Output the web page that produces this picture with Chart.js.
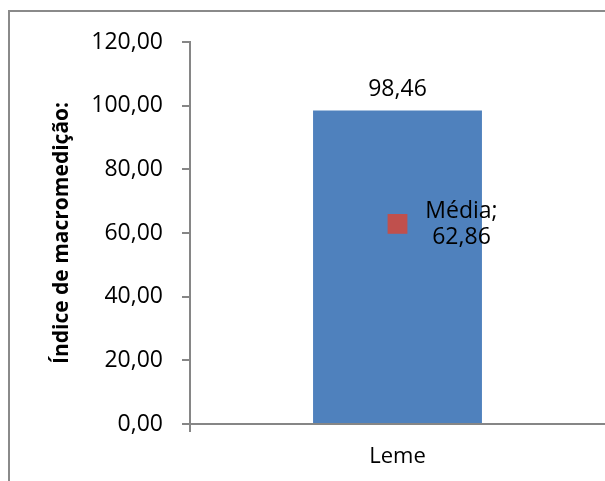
<!DOCTYPE html>
<html lang="pt">
<head>
<meta charset="UTF-8">
<title>Índice de macromedição</title>
<script src="https://cdn.jsdelivr.net/npm/chart.js"></script>
<style>
  html, body { margin: 0; padding: 0; background: #fff; overflow: hidden; }
  #wrap { position: relative; width: 605px; height: 481px; overflow: hidden; }
  #frame { position: absolute; left: 8px; top: 10px; width: 700px; height: 600px;
           border: 2px solid #8a8a8a; box-sizing: border-box; }
  #box { position: absolute; left: 0; top: 0; width: 605px; height: 481px; }
</style>
</head>
<body>
<div id="wrap">
  <div id="frame"></div>
  <div id="box"><canvas id="chart"></canvas></div>
</div>
<script>
// data
const categories = ['Leme'];
const indexValues = [98.46];
const meanLabel = 'Média';
const meanValues = [62.86];
const yTicks = [0, 20, 40, 60, 80, 100, 120];

const FONT = "'Open Sans', 'Liberation Sans', sans-serif";
const AXIS = '#868686';

// pt-BR style numbers: 98,46
const fmt = v => Number(v).toFixed(2).replace('.', ',');

// value labels drawn next to the chart elements
const labelPlugin = {
  id: 'labels',
  afterDatasetsDraw(chart) {
    const ctx = chart.ctx;
    ctx.save();
    ctx.fillStyle = '#000';
    ctx.font = '23px ' + FONT;
    ctx.textAlign = 'center';
    ctx.textBaseline = 'alphabetic';

    chart.getDatasetMeta(1).data.forEach((bar, i) => {
      ctx.fillText(fmt(indexValues[i]), bar.x, bar.y - 15);
    });
    chart.getDatasetMeta(0).data.forEach((pt, i) => {
      ctx.fillText(meanLabel + ';', pt.x + 64, pt.y - 6);
      ctx.fillText(fmt(meanValues[i]), pt.x + 64, pt.y + 20);
    });
    ctx.restore();
  }
};

new Chart(document.getElementById('chart'), {
  type: 'bar',
  data: {
    labels: categories,
    datasets: [
      {
        type: 'line',
        label: meanLabel,
        data: meanValues,
        showLine: false,
        pointStyle: 'rect',
        pointRadius: 14,
        pointHoverRadius: 14,
        backgroundColor: '#C0504D',
        borderColor: '#C0504D',
        borderWidth: 0,
        order: 1
      },
      {
        label: 'Índice de macromedição',
        data: indexValues,
        backgroundColor: '#4F81BD',
        categoryPercentage: 1,
        barPercentage: 0.407,
        order: 2
      }
    ]
  },
  options: {
    responsive: true,
    maintainAspectRatio: false,
    animation: false,
    layout: { autoPadding: false, padding: { top: 42, left: 0, right: 0, bottom: 0 } },
    plugins: { legend: { display: false }, tooltip: { enabled: false } },
    scales: {
      x: {
        afterFit: s => { s.height = 57; s.paddingLeft = 0; s.paddingRight = 0; },
        border: { color: AXIS, width: 2 },
        grid: {
          drawOnChartArea: false, tickLength: 8, lineWidth: 2, offset: true,
          // the right edge of the plot is cut off in the original, only the left tick shows
          color: c => (c.index === 0 ? AXIS : 'rgba(0,0,0,0)')
        },
        ticks: { color: '#000', font: { family: FONT, size: 22 }, padding: 12 }
      },
      y: {
        min: 0,
        max: 120,
        afterFit: s => { s.width = 190; },
        afterBuildTicks: s => { s.ticks = yTicks.map(v => ({ value: v })); },
        border: { color: AXIS, width: 2 },
        grid: { drawOnChartArea: false, tickLength: 8, color: AXIS, lineWidth: 2 },
        ticks: { color: '#000', font: { family: FONT, size: 23 }, padding: 19, callback: v => fmt(v) },
        title: {
          display: true,
          text: 'Índice de macromedição:',
          color: '#000',
          font: { family: FONT, size: 21, weight: 'bold' },
          padding: { top: 49, bottom: 0 }
        }
      }
    }
  },
  plugins: [labelPlugin]
});
</script>
</body>
</html>
